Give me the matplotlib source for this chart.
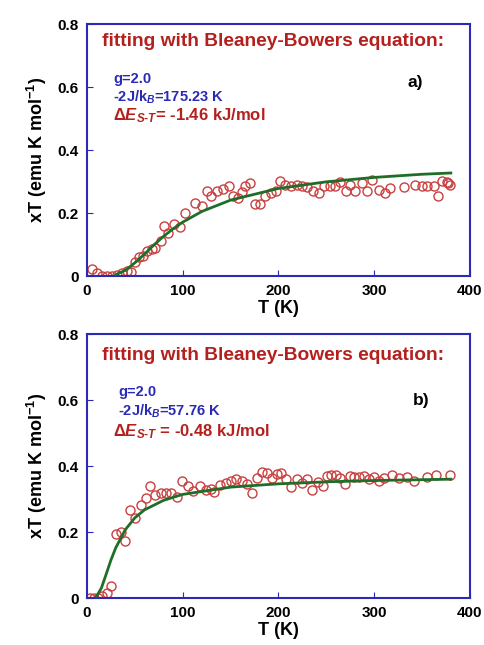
import matplotlib
matplotlib.use('Agg')
import matplotlib.pyplot as plt

# fonts: Arial-like bold everywhere
plt.rcParams['font.family'] = ['Liberation Sans', 'DejaVu Sans']
plt.rcParams['font.weight'] = 'bold'
plt.rcParams['mathtext.fontset'] = 'custom'
plt.rcParams['mathtext.rm'] = 'Liberation Sans:bold'
plt.rcParams['mathtext.bf'] = 'Liberation Sans:bold'
plt.rcParams['mathtext.it'] = 'Liberation Sans:italic:bold'

# panel a) measured data
t_a = [5, 10, 16, 21, 26, 31, 37, 42, 46, 50, 54, 58, 63, 68, 71, 77, 80, 85, 91, 97,
       102, 113, 120, 125, 130, 136, 142, 148, 153, 158, 162, 165, 170, 175, 181, 186,
       192, 197, 202, 207, 213, 219, 225, 230, 236, 242, 247, 254, 259, 264, 270, 275,
       280, 287, 292, 298, 305, 311, 316, 331, 343, 350, 355, 362, 367, 371, 376, 377, 379]
xt_a = [0.021, 0.009, 0.0, 0.0, 0.0, 0.002, 0.011, 0.017, 0.014, 0.046, 0.060, 0.064,
        0.078, 0.085, 0.088, 0.110, 0.160, 0.138, 0.166, 0.155, 0.200, 0.232, 0.221,
        0.269, 0.255, 0.269, 0.277, 0.287, 0.253, 0.248, 0.266, 0.287, 0.294, 0.229,
        0.229, 0.253, 0.262, 0.269, 0.301, 0.290, 0.285, 0.290, 0.287, 0.283, 0.269,
        0.264, 0.287, 0.287, 0.285, 0.298, 0.269, 0.290, 0.269, 0.296, 0.269, 0.304,
        0.274, 0.264, 0.280, 0.283, 0.290, 0.287, 0.285, 0.285, 0.255, 0.301, 0.299,
        0.296, 0.290]

# panel a) fitted curve (read off the green line)
fit_t_a = [30, 40, 50, 60, 70, 80, 90, 100, 120, 150, 200, 250, 300, 350, 380]
fit_a = [0.004, 0.018, 0.042, 0.069, 0.099, 0.126, 0.150, 0.171, 0.205, 0.241, 0.278,
         0.299, 0.313, 0.323, 0.327]

# panel b) measured data
t_b = [3, 7, 11, 16, 21, 25, 30, 35, 40, 45, 50, 56, 62, 66, 71, 77, 83, 88, 94, 99,
       105, 111, 118, 124, 129, 133, 139, 145, 150, 156, 162, 167, 172, 178, 183, 188,
       193, 198, 203, 208, 213, 219, 225, 230, 235, 241, 246, 251, 255, 260, 264, 269,
       275, 279, 284, 289, 294, 300, 305, 310, 319, 326, 334, 341, 355, 364, 379]
xt_b = [0.0, 0.0, 0.0, 0.005, 0.015, 0.036, 0.195, 0.199, 0.173, 0.268, 0.243, 0.281,
        0.304, 0.338, 0.311, 0.319, 0.319, 0.319, 0.307, 0.355, 0.338, 0.324, 0.340,
        0.327, 0.331, 0.321, 0.342, 0.350, 0.355, 0.362, 0.355, 0.345, 0.317, 0.365,
        0.383, 0.378, 0.365, 0.375, 0.378, 0.362, 0.335, 0.362, 0.350, 0.362, 0.327,
        0.352, 0.340, 0.370, 0.372, 0.372, 0.365, 0.345, 0.370, 0.368, 0.368, 0.370,
        0.362, 0.368, 0.355, 0.365, 0.372, 0.365, 0.368, 0.355, 0.368, 0.372, 0.372]

# panel b) fitted curve
fit_t_b = [10, 15, 20, 25, 30, 40, 50, 60, 80, 100, 150, 200, 250, 300, 380]
fit_b = [0.005, 0.030, 0.072, 0.115, 0.152, 0.207, 0.243, 0.267, 0.296, 0.314, 0.336,
         0.346, 0.352, 0.356, 0.360]

W, H = 485, 645
fig = plt.figure(figsize=(W / 100, H / 100), dpi=100)

blue = '#2a2ab4'
red = '#b4201e'
green = '#1e6e28'


def px(x, y):
    return x / W, 1 - y / H


def make_panel(rect, t, xt, ft, fv):
    ax = fig.add_axes(rect)
    ax.plot(ft, fv, color=green, lw=2, zorder=3)
    ax.plot(t, xt, 'o', mfc='none', mec='#c84040', ms=6.5, mew=1, zorder=2)
    ax.set_xlim(0, 400)
    ax.set_ylim(0, 0.8)
    ax.set_xticks([0, 100, 200, 300, 400])
    ax.set_yticks([0, 0.2, 0.4, 0.6, 0.8])
    ax.set_yticklabels(['0', '0.2', '0.4', '0.6', '0.8'])
    for s in ax.spines.values():
        s.set_color(blue)
        s.set_linewidth(1.5)
    ax.tick_params(direction='in', length=4, color=blue, labelsize=11, pad=6)
    ax.set_xlabel('T (K)', fontsize=13, fontweight='bold', labelpad=1)
    ax.set_ylabel(r'xT (emu K mol$^{-1}$)', fontsize=13, fontweight='bold', labelpad=6)
    return ax


ax1 = make_panel([87 / W, 1 - 276 / H, 383 / W, 252 / H], t_a, xt_a, fit_t_a, fit_a)
ax2 = make_panel([87 / W, 1 - 598 / H, 383 / W, 264 / H], t_b, xt_b, fit_t_b, fit_b)

# annotations, panel a)
fig.text(*px(273, 42), 'fitting with Bleaney-Bowers equation:', color=red,
         fontsize=13.8, ha='center', va='center')
fig.text(*px(113, 79), 'g=2.0', color=blue, fontsize=10.5, va='center')
fig.text(*px(113, 97), r'-2J/k$_{B}$=175.23 K', color=blue, fontsize=10.5, va='center')
fig.text(*px(113, 116), r'$\Delta\mathit{E}_{S\text{-}T}$= -1.46 kJ/mol', color=red,
         fontsize=12, va='center')
fig.text(*px(408, 83), 'a)', color='black', fontsize=12.5, va='center')

# annotations, panel b)
fig.text(*px(273, 355), 'fitting with Bleaney-Bowers equation:', color=red,
         fontsize=13.8, ha='center', va='center')
fig.text(*px(118, 392), 'g=2.0', color=blue, fontsize=10.5, va='center')
fig.text(*px(118, 411), r'-2J/k$_{B}$=57.76 K', color=blue, fontsize=10.5, va='center')
fig.text(*px(113, 432), r'$\Delta\mathit{E}_{S\text{-}T}$ = -0.48 kJ/mol', color=red,
         fontsize=12, va='center')
fig.text(*px(413, 400), 'b)', color='black', fontsize=12.5, va='center')

fig.savefig('out.png', dpi=100)
